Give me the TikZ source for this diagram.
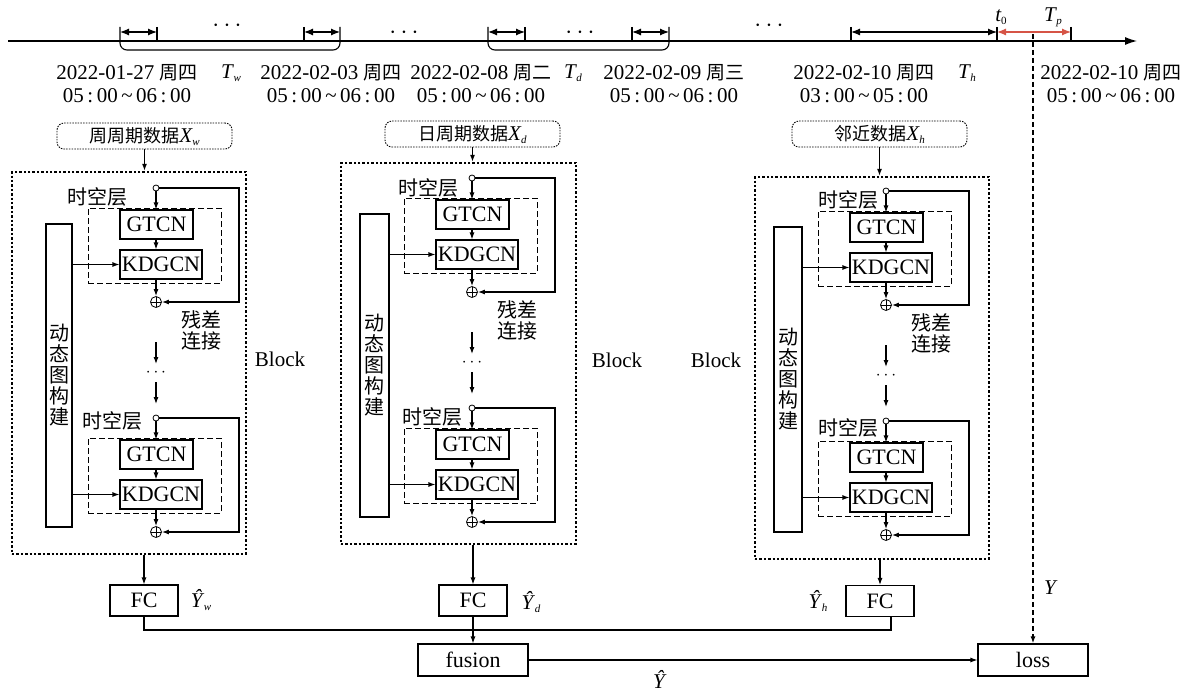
\documentclass[tikz,border=0pt]{standalone}
\usepackage{fontspec}
\setmainfont{Liberation Serif}
\newfontfamily\cjk{Noto Sans CJK SC}
\usetikzlibrary{arrows.meta,calc}
\definecolor{predred}{RGB}{214,84,70}
\newcommand{\isym}[2]{\textit{#1}\kern-0.5pt\raisebox{-3pt}{\fontsize{11}{11}\selectfont\textit{#2}}}
\newcommand{\cjkd}[1]{{\cjk\fontsize{19}{23}\selectfont #1}}
\tikzset{
  arr/.style={-{Latex[length=7pt,width=5pt]}, line width=1.1pt},
  tarr/.style={{Latex[length=9pt,width=7pt]}-{Latex[length=9pt,width=7pt]}, line width=1.2pt},
  ln/.style={line width=1.1pt},
  box/.style={draw, line width=1.1pt, inner sep=0pt, font=\fontsize{22}{24}\selectfont},
  dashbox/.style={draw, dash pattern=on 6pt off 3pt, line width=0.9pt, inner sep=0pt},
  blockbox/.style={draw, dash pattern=on 2.4pt off 2pt, line width=2.4pt, inner sep=0pt},
  inbox/.style={draw, rounded corners=7pt, dash pattern=on 1.5pt off 1.2pt, line width=0.9pt, inner sep=0pt, minimum width=175, minimum height=26},
  dynbox/.style={draw, line width=1.1pt, inner sep=0pt, align=center, font={\cjk\fontsize{20}{21}\selectfont}},
  cjklab/.style={inner sep=0pt, align=center, font={\cjk\fontsize{20}{21}\selectfont}},
  dlab/.style={inner sep=0pt, align=center, font=\fontsize{21}{23}\selectfont},
  lab/.style={inner sep=0pt, font=\fontsize{21}{23}\selectfont},
  dots/.style={inner sep=0pt, font=\fontsize{16}{16}\selectfont},
  tdots/.style={inner sep=0pt, font=\fontsize{24}{24}\selectfont},
  smallc/.style={circle, draw, line width=0.8pt, minimum size=6pt, inner sep=0pt, fill=white},
  oplus/.style={circle, draw, line width=0.8pt, minimum size=11pt, inner sep=0pt,
    path picture={\draw[line width=0.8pt] (path picture bounding box.north) -- (path picture bounding box.south) (path picture bounding box.west) -- (path picture bounding box.east);}},
  ydash/.style={dash pattern=on 5pt off 3pt, line width=1.4pt},
}
% name, cx, cy, label x, label y
\newcommand{\stlayer}[5]{%
  \node[smallc] (#1c) at (#2,#3) {};
  \node[cjklab] (#1l) at (#4,#5) {时空层};
  \node[box, minimum width=73, minimum height=29] (#1g) at (#2+0.5,#3+36.5) {GTCN};
  \node[box, minimum width=82, minimum height=29] (#1k) at (#2+5,#3+76.5) {KDGCN};
  \node[dashbox, minimum width=133, minimum height=75] (#1d) at (#2-1.5,#3+57.5) {};
  \node[oplus] (#1p) at (#2,#3+114) {};
  \draw[arr] (#1c) -- (#1c |- #1g.north);
  \draw[arr] (#1c |- #1g.south) -- (#1c |- #1k.north);
  \draw[arr] (#1c |- #1k.south) -- (#1p.north);
  \draw[arr] (#1c.east) -- (#2+83,#3) |- (#1p.east);
}
% name, cx, y of oplus
\newcommand{\layergap}[3]{%
  \coordinate (#1a) at (#2,#3+40); \coordinate (#1b) at (#2,#3+62);
  \coordinate (#1e) at (#2,#3+80); \coordinate (#1f) at (#2,#3+102);
  \draw[arr] (#1a) -- (#1b);
  \node[dots] (#1m) at (#2,#3+71) {$\cdots$};
  \draw[arr] (#1e) -- (#1f);
  \node[cjklab] (#1r) at (#2+45,#3+28) {残差\\连接};
}
\begin{document}
\begin{tikzpicture}[x=1pt,y=-1pt]
\useasboundingbox (0,0) rectangle (1187,693);
% ---------------- timeline
\coordinate (ts) at (8,41); \coordinate (te) at (1137,41);
\draw[-{Latex[length=12pt,width=8pt]}, line width=1.1pt] (ts) -- (te);
\foreach \x in {157,304,525,632,851,997,1071} {\draw[ln] (\x,27) -- (\x,41);}
\draw[ln, rounded corners=7pt] (120,27) -- (120,50) -- (340,50) -- (340,27);
\draw[ln, rounded corners=7pt] (488,27) -- (488,50) -- (669,50) -- (669,27);
\draw[tarr] (120,32) -- (157,32);
\draw[tarr] (304,32) -- (340,32);
\draw[tarr] (488,32) -- (525,32);
\draw[tarr] (632,32) -- (669,32);
\draw[tarr] (851,32) -- (997,32);
\draw[tarr, predred] (997,32) -- (1071,32);
\node[tdots] (dt1) at (227,26) {$\cdots$};
\node[tdots] (dt2) at (404,33) {$\cdots$};
\node[tdots] (dt3) at (580,33) {$\cdots$};
\node[tdots] (dt4) at (769,26) {$\cdots$};
\node[lab] (t0) at (1001,17) {\isym{t}{\upshape 0}};
\node[lab] (tp) at (1053,17) {\isym{T}{p}};
\node[dlab] (l1) at (127,84) {2022-01-27 \cjkd{周四}\\05\,:\,00\,\textasciitilde\,06\,:\,00};
\node[lab] (tw) at (231,73) {\isym{T}{w}};
\node[dlab] (l2) at (331,84) {2022-02-03 \cjkd{周四}\\05\,:\,00\,\textasciitilde\,06\,:\,00};
\node[dlab] (l3) at (481,84) {2022-02-08 \cjkd{周二}\\05\,:\,00\,\textasciitilde\,06\,:\,00};
\node[lab] (td) at (573,73) {\isym{T}{d}};
\node[dlab] (l4) at (674,84) {2022-02-09 \cjkd{周三}\\05\,:\,00\,\textasciitilde\,06\,:\,00};
\node[dlab] (l5) at (864,84) {2022-02-10 \cjkd{周四}\\03\,:\,00\,\textasciitilde\,05\,:\,00};
\node[lab] (th) at (967,73) {\isym{T}{h}};
\node[dlab] (l6) at (1111,84) {2022-02-10 \cjkd{周四}\\05\,:\,00\,\textasciitilde\,06\,:\,00};
% ---------------- inputs
\node[inbox] (win) at (144.5,136) {{\cjk\fontsize{18}{20}\selectfont 周周期数据}\fontsize{21}{23}\selectfont\isym{X}{w}};
\node[inbox] (din) at (472.5,134) {{\cjk\fontsize{18}{20}\selectfont 日周期数据}\fontsize{21}{23}\selectfont\isym{X}{d}};
\node[inbox] (hin) at (879.5,134) {{\cjk\fontsize{18}{20}\selectfont 邻近数据}\fontsize{21}{23}\selectfont\isym{X}{h}};
% ---------------- blocks
\node[blockbox, minimum width=234, minimum height=382] (bw) at (129,363) {};
\node[blockbox, minimum width=235, minimum height=381] (bd) at (458.5,353.5) {};
\node[blockbox, minimum width=234, minimum height=382] (bh) at (872,368) {};
\draw[arr] (win.south) -- (win.south |- bw.north);
\draw[arr] (din.south) -- (din.south |- bd.north);
\draw[arr] (hin.south) -- (hin.south |- bh.north);
\node[lab] (blw) at (280,359) {Block};
\node[lab] (bld) at (617,360) {Block};
\node[lab] (blh) at (716,360) {Block};
% dynamic graph boxes
\node[dynbox, minimum width=26, minimum height=303] (dynw) at (59,375.5) {动\\态\\图\\构\\建};
\node[dynbox, minimum width=29, minimum height=303] (dynd) at (374.5,365.5) {动\\态\\图\\构\\建};
\node[dynbox, minimum width=28, minimum height=305] (dynh) at (788,379.5) {动\\态\\图\\构\\建};
% layers
\stlayer{wa}{156}{188}{97}{197}
\layergap{wg}{156}{302}
\stlayer{wb}{156}{418}{112}{421}
\stlayer{da}{472}{178}{428}{188}
\layergap{dg}{472}{292}
\stlayer{db}{472}{408}{432}{417}
\stlayer{ha}{886}{191}{848}{200}
\layergap{hg}{886}{305}
\stlayer{hb}{886}{421}{848}{428}
\draw[arr] (dynw.east |- wak.west) -- (wak.west);
\draw[arr] (dynw.east |- wbk.west) -- (wbk.west);
\draw[arr] (dynd.east |- dak.west) -- (dak.west);
\draw[arr] (dynd.east |- dbk.west) -- (dbk.west);
\draw[arr] (dynh.east |- hak.west) -- (hak.west);
\draw[arr] (dynh.east |- hbk.west) -- (hbk.west);
% ---------------- outputs
\node[box, minimum width=68, minimum height=31] (fcw) at (144,600.5) {FC};
\node[box, minimum width=68, minimum height=31] (fcd) at (473,600.5) {FC};
\node[box, minimum width=68, minimum height=31] (fch) at (880,601) {FC};
\draw[arr] (bw.south -| fcw) -- (fcw.north);
\draw[arr] (bd.south -| fcd) -- (fcd.north);
\draw[arr] (bh.south -| fch) -- (fch.north);
\node[lab] (yw) at (201,600) {\isym{Ŷ}{w}};
\node[lab] (yd) at (531,602) {\isym{Ŷ}{d}};
\node[lab] (yh) at (818,601) {\isym{Ŷ}{h}};
\node[box, minimum width=110, minimum height=32] (fus) at (473,660) {fusion};
\node[box, minimum width=110, minimum height=32] (loss) at (1033,660) {loss};
\coordinate (jn) at (891,630);
\draw[ln] (fcw.south) |- (jn) -- (jn |- fch.south);
\draw[arr] (fcd.south) -- (fus.north);
\draw[arr] (fus.east) -- (loss.west);
\node[lab] (yhat) at (660,679) {\textit{Ŷ}};
\coordinate (ytop) at (1033,34);
\draw[ydash, -{Latex[length=7pt,width=5pt]}] (ytop) -- (loss.north);
\node[lab] (ylab) at (1051,588) {\textit{Y}};
\end{tikzpicture}
\end{document}
